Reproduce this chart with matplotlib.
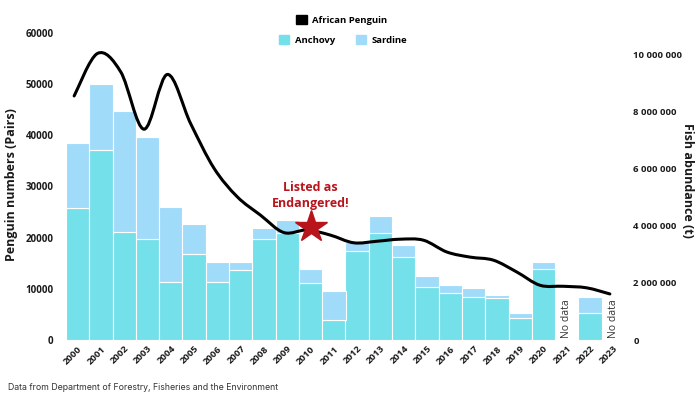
import matplotlib.pyplot as plt
import numpy as np
from matplotlib.patches import Patch, PathPatch
from matplotlib.path import Path
from matplotlib.ticker import FuncFormatter

# data
years = list(range(2000, 2024))
penguins = [47700, 56000, 52400, 41200, 51900, 42300, 33600, 28000, 24400, 21000,
            21500, 20500, 19000, 19300, 19700, 19500, 17200, 16200, 15600, 13300,
            10700, 10500, 10200, 9000]
anchovy = [4.60, 6.64, 3.79, 3.53, 2.04, 3.02, 2.04, 2.46, 3.53, 3.73, 2.00, 0.69,
           3.11, 3.73, 2.91, 1.86, 1.65, 1.49, 1.48, 0.78, 2.48, np.nan, 0.95, np.nan]
sardine = [2.28, 2.31, 4.21, 3.57, 2.62, 1.04, 0.70, 0.25, 0.37, 0.46, 0.49, 1.04,
           0.32, 0.61, 0.41, 0.37, 0.27, 0.33, 0.10, 0.18, 0.24, np.nan, 0.55, np.nan]
no_data_years = [2021, 2023]
listed_year = 2010

anch_col = "#74E0EA"
sard_col = "#A0DCFA"
red = "#B8141C"
txt = "#1a1a1a"

plt.rcParams['font.family'] = ['Open Sans', 'DejaVu Sans']

fig = plt.figure(figsize=(6.96, 3.99), dpi=100)
ax = fig.add_axes([66/696, 1-340/399, 559/696, 307/399])
ax2 = ax.twinx()
ax.set_zorder(ax2.get_zorder() + 1)
ax.patch.set_visible(False)

x = np.arange(len(years))
a = np.array(anchovy) * 1e6
s = np.array(sardine) * 1e6
ax2.bar(x, a, width=1.0, color=anch_col, edgecolor="white", linewidth=0.8)
ax2.bar(x, s, width=1.0, bottom=a, color=sard_col, edgecolor="white", linewidth=0.8)

# smooth penguin line (catmull-rom -> bezier)
px = x - 0.15
py = np.array(penguins, dtype=float)
pts = np.column_stack([px, py])
ext = np.vstack([pts[0], pts, pts[-1]])
verts = [tuple(pts[0])]
codes = [Path.MOVETO]
for i in range(1, len(ext) - 2):
    p0, p1, p2, p3 = ext[i-1], ext[i], ext[i+1], ext[i+2]
    c1 = p1 + (p2 - p0) / 6
    c2 = p2 - (p3 - p1) / 6
    verts += [tuple(c1), tuple(c2), tuple(p2)]
    codes += [Path.CURVE4] * 3
ax.add_patch(PathPatch(Path(verts, codes), fill=False, lw=2.2, edgecolor="black",
                       capstyle="round"))

# listed as endangered
li = years.index(listed_year)
ax.plot(li, penguins[li] + 600, marker="*", ms=24, color=red, zorder=5)
ax.annotate("Listed as\nEndangered!", (li, penguins[li]), xytext=(0, 25),
            textcoords="offset points", ha="center", va="center", color=red,
            fontsize=9, fontweight="bold", linespacing=1.35)

for yr in no_data_years:
    ax.text(years.index(yr), 300, "No data", rotation=90, ha="center", va="bottom",
            fontsize=7.5, color="#333333")

ax.set_xlim(-0.5, len(years) - 0.5)
ax.set_ylim(0, 60000)
ax2.set_ylim(0, 307/28.6*1e6)
ax.set_yticks(range(0, 60001, 10000))
ax2.set_yticks(np.arange(0, 10e6 + 1, 2e6))
ax2.yaxis.set_major_formatter(FuncFormatter(lambda v, p: f"{int(v):,}".replace(",", " ")))
ax.set_xticks(x)
ax.set_xticklabels([str(y) for y in years], rotation=45, ha="right",
                   rotation_mode="anchor", fontsize=6.8, fontweight="bold", color=txt)
ax.tick_params(axis="x", length=0, pad=3)
ax.tick_params(axis="y", length=0, pad=9, labelsize=7)
ax2.tick_params(axis="y", length=0, pad=6, labelsize=6.8)
for lab in ax.get_yticklabels() + ax2.get_yticklabels():
    lab.set_fontweight("bold")
    lab.set_color(txt)
for a_ in (ax, ax2):
    for sp in a_.spines.values():
        sp.set_visible(False)

fig.text(12/696, 1-185/399, "Penguin numbers (Pairs)", rotation=90, ha="center",
         va="center", fontsize=9, fontweight="bold", color=txt)
fig.text(688/696, 1-180/399, "Fish abundance (t)", rotation=270, ha="center",
         va="center", fontsize=9, fontweight="bold", color=txt)

fig.legend(handles=[Patch(color="black", label="African Penguin")],
           loc="center", bbox_to_anchor=(342/696, 1-20/399), frameon=False,
           prop={"size": 6.8, "weight": "bold"}, handlelength=1.1,
           handleheight=1.1, handletextpad=0.6, borderpad=0)
fig.legend(handles=[Patch(color=anch_col, label="Anchovy"),
                    Patch(color=sard_col, label="Sardine")],
           loc="center", bbox_to_anchor=(343/696, 1-40/399), frameon=False, ncol=2,
           prop={"size": 6.8, "weight": "bold"}, handlelength=1.1, handleheight=1.1,
           handletextpad=0.6, columnspacing=2.2, borderpad=0)

fig.text(8/696, 1-387/399, "Data from Department of Forestry, Fisheries and the Environment",
         ha="left", va="center", fontsize=6.3, color="#333333", family=["Inter", "DejaVu Sans"])

fig.savefig("out.png", dpi=100)
